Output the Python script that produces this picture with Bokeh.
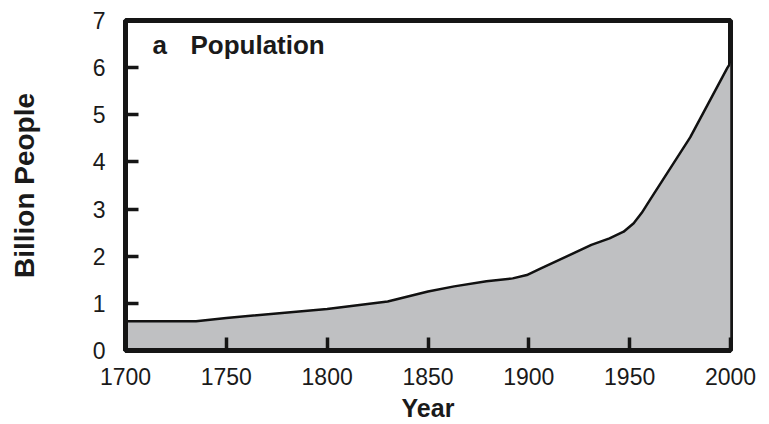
from bokeh.plotting import figure
from bokeh.models import Range1d, FixedTicker, Label
from bokeh.embed import file_html
from bokeh.resources import INLINE

years = [1700, 1735, 1750, 1800, 1830, 1850, 1863, 1879, 1892, 1899, 1906,
         1931, 1940, 1947, 1952, 1956, 1960, 1980, 1998.5, 2000]
population = [0.62, 0.62, 0.69, 0.88, 1.04, 1.25, 1.36, 1.47, 1.53, 1.6, 1.74,
              2.24, 2.38, 2.52, 2.7, 2.92, 3.19, 4.52, 6.0, 6.1]
x_ticks = [1700, 1750, 1800, 1850, 1900, 1950, 2000]
y_ticks = [0, 1, 2, 3, 4, 5, 6, 7]
panel_letter = "a"
panel_title = "Population"
x_label = "Year"
y_label = "Billion People"

INK = "#151515"
p = figure(width=769, height=424, output_backend="svg", toolbar_location=None,
           x_range=Range1d(1700, 2000), y_range=Range1d(0, 7),
           min_border_left=125, min_border_right=39, min_border_top=20,
           min_border_bottom=73)

p.varea(x=years, y1=0, y2=population, fill_color="#bfc0c2")
p.line(x=years, y=population, line_color="#111111", line_width=2.5)

p.grid.visible = False
p.outline_line_color = INK
p.outline_line_width = 5
p.outline_line_alpha = 1

font = "Liberation Sans"
for ax in (p.xaxis[0], p.yaxis[0]):
    ax.axis_line_color = INK
    ax.axis_line_width = 5
    ax.major_tick_in = 13
    ax.major_tick_out = 0
    ax.major_tick_line_color = INK
    ax.major_tick_line_width = 3.5
    ax.minor_tick_line_color = None
    ax.major_label_text_font = font
    ax.major_label_text_font_size = "23px"
    ax.major_label_text_color = "#1a1a1a"
    ax.axis_label_text_font = font
    ax.axis_label_text_font_size = "25px"
    ax.axis_label_text_font_style = "bold"
    ax.axis_label_text_color = "#1a1a1a"

p.yaxis[0].axis_label_text_font_size = "28px"

p.xaxis[0].ticker = FixedTicker(ticks=x_ticks)
p.yaxis[0].ticker = FixedTicker(ticks=y_ticks)
p.xaxis[0].major_label_standoff = 17
p.xaxis[0].axis_label_standoff = 6
p.yaxis[0].major_label_standoff = 20
p.yaxis[0].axis_label_standoff = 50
p.xaxis[0].axis_label = x_label
p.yaxis[0].axis_label = y_label

p.add_layout(Label(x=1713.4, y=6.49, text=panel_letter, text_font=font,
                   text_font_size="26px", text_font_style="bold",
                   text_color="#1a1a1a", text_baseline="alphabetic"))
p.add_layout(Label(x=1732.2, y=6.49, text=panel_title, text_font=font,
                   text_font_size="26px", text_font_style="bold",
                   text_color="#1a1a1a", text_baseline="alphabetic"))

open("out.html", "w").write(file_html(p, INLINE))
